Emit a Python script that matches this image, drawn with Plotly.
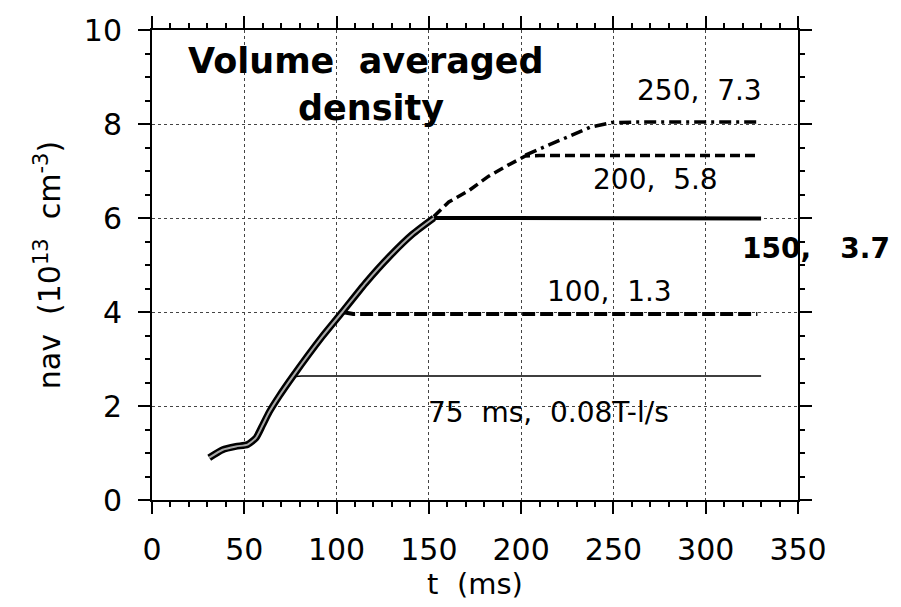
import plotly.graph_objects as go

# ---- data (t in ms, nav in 1e13 cm^-3) ----
t_base = [31, 38.3, 45.5, 51.8, 56.3, 59.9, 63.5, 68.9, 76.1, 92.3, 103.1, 115.8, 128.4, 141.0, 152.7]
n_base = [0.90, 1.07, 1.14, 1.18, 1.32, 1.59, 1.87, 2.21, 2.62, 3.48, 4.00, 4.62, 5.17, 5.65, 6.00]

t_75 = [76.1, 81, 330]
n_75 = [2.62, 2.64, 2.64]

t_100 = [103.1, 109, 328]
n_100 = [4.00, 3.96, 3.96]

t_150 = [152.7, 158, 330]
n_150 = [6.00, 6.00, 5.99]

t_200 = [152.7, 160.8, 171.6, 182.4, 193.2, 202.3, 210, 327]
n_200 = [6.03, 6.34, 6.58, 6.89, 7.13, 7.32, 7.33, 7.33]

t_250 = [202.3, 216.6, 227.5, 237.4, 249, 260, 328]
n_250 = [7.34, 7.58, 7.75, 7.93, 8.03, 8.04, 8.04]

labels = ["250,  7.3", "200,  5.8", "100,  1.3", "75  ms,  0.08T-l/s"]
label_t = [296.6, 272.7, 247.8, 214.7]
label_n = [8.72, 6.82, 4.44, 1.86]

outside_label = "150,   3.7"

title_lines = ["Volume  averaged", "density"]
title_t = [116.2, 118.9]
title_n = [9.34, 8.33]

FONT = "DejaVu Sans"

fig = go.Figure()

# 75 ms: thin solid
fig.add_trace(go.Scatter(x=t_75, y=n_75, mode="lines",
                         line=dict(color="black", width=1.5), showlegend=False))
# 100 ms: thick dashed
fig.add_trace(go.Scatter(x=t_100, y=n_100, mode="lines",
                         line=dict(color="black", width=4, dash="13px,5px"), showlegend=False))
# 150 ms: thick solid
fig.add_trace(go.Scatter(x=t_150, y=n_150, mode="lines",
                         line=dict(color="black", width=4), showlegend=False))
# 200 ms: dashed
fig.add_trace(go.Scatter(x=t_200, y=n_200, mode="lines",
                         line=dict(color="black", width=3.5, dash="10px,5px"), showlegend=False))
# 250 ms: dash-dot
fig.add_trace(go.Scatter(x=t_250, y=n_250, mode="lines",
                         line=dict(color="black", width=3.5, dash="12px,5px,3px,5px"), showlegend=False))
# common ramp: hollow thick line
fig.add_trace(go.Scatter(x=t_base, y=n_base, mode="lines",
                         line=dict(color="black", width=7, shape="spline", smoothing=0.6), showlegend=False))
fig.add_trace(go.Scatter(x=t_base, y=n_base, mode="lines",
                         line=dict(color="#a8a8a8", width=2, shape="spline", smoothing=0.6), showlegend=False))

for txt, tx, ny in zip(labels, label_t, label_n):
    fig.add_annotation(x=tx, y=ny, xref="x", yref="y", text=txt, showarrow=False,
                       font=dict(family=FONT, size=28, color="black"),
                       xanchor="center", yanchor="middle")

# label that sits to the right of the plot frame
fig.add_annotation(x=1.028, y=0.535, xref="paper", yref="paper", text=outside_label,
                   showarrow=False, font=dict(family=FONT, size=28, color="black", weight="bold"),
                   xanchor="center", yanchor="middle")

for txt, tx, ny in zip(title_lines, title_t, title_n):
    fig.add_annotation(x=tx, y=ny, xref="x", yref="y", text=txt, showarrow=False,
                       font=dict(family=FONT, size=35, color="black", weight="bold"),
                       xanchor="center", yanchor="middle")

axis_common = dict(
    showline=True, linecolor="black", linewidth=2, mirror="ticks",
    ticks="outside", ticklen=12, tickwidth=1.5, tickcolor="black",
    showgrid=True, gridcolor="#444444", gridwidth=1, griddash="dot",
    zeroline=False,
    tickfont=dict(family=FONT, size=30, color="black"),
    ticklabelstandoff=10,
)

fig.update_xaxes(range=[0, 350], tick0=0, dtick=50,
                 minor=dict(dtick=10, ticks="outside", ticklen=5, tickcolor="black", showgrid=False),
                 title=dict(text="t  (ms)", font=dict(family=FONT, size=29, color="black"), standoff=8),
                 **axis_common)
fig.update_yaxes(range=[0, 10], tick0=0, dtick=2,
                 minor=dict(dtick=0.5, ticks="outside", ticklen=5, tickcolor="black", showgrid=False),
                 title=dict(text="nav  (10<sup>13</sup>  cm<sup>-3</sup>)",
                            font=dict(family=FONT, size=30, color="black"), standoff=14),
                 **axis_common)

fig.update_layout(
    width=901, height=607,
    margin=dict(l=152, r=103, t=23, b=100),
    paper_bgcolor="white", plot_bgcolor="white",
    font=dict(family=FONT, color="black"),
)

fig.write_html("out.html")
